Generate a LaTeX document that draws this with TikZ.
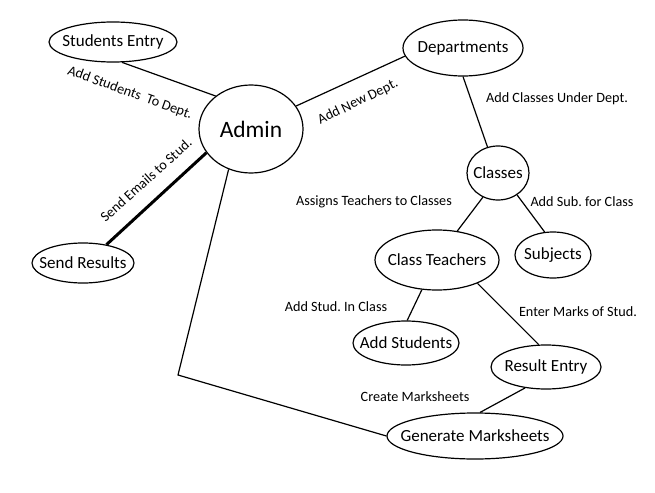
\documentclass[tikz,border=0pt]{standalone}
\usepackage{fontspec}
\setmainfont{Carlito}
\usetikzlibrary{shapes.geometric}
\begin{document}
\begin{tikzpicture}[x=1pt,y=-1pt,line width=1.2pt,
    task/.style={draw,ellipse,inner xsep=-14pt,inner ysep=-3pt,font=\fontsize{17}{17}\selectfont},
    lbl/.style={font=\fontsize{14.2}{14.2}\selectfont,inner sep=0pt}]
      \useasboundingbox (0,0) rectangle (655,492);
      \node[task,minimum width=128,minimum height=40] (studentsentry) at (113,42) {Students Entry};
      \node[task,minimum width=104,minimum height=88,font=\fontsize{23.5}{23.5}\selectfont] (admin) at (251,129) {Admin};
      \node[task,minimum width=102,minimum height=40] (sendresults) at (83,263) {Send Results};
      \node[task,minimum width=120,minimum height=56] (departments) at (463,48) {Departments};
      \node[task,minimum width=62,minimum height=54] (classes) at (498,173) {Classes};
      \node[task,minimum width=124,minimum height=60] (classteachers) at (437,260) {Class Teachers};
      \node[task,minimum width=76,minimum height=46] (subjects) at (553,255) {Subjects};
      \node[task,minimum width=106,minimum height=44] (addstudents) at (406,343) {Add Students};
      \node[task,minimum width=110,minimum height=44] (resultentry) at (546,367) {Result Entry};
      \node[task,minimum width=176,minimum height=46] (marksheets) at (475,436) {Generate Marksheets};
      \coordinate (bend) at (178,375);
      \draw (studentsentry.-66) -- (admin.137);
      \draw (admin.27) -- (departments.188);
      \draw[line width=3pt] (admin.208) -- (sendresults.38);
      \draw (admin.241) -- (bend) -- (marksheets.west);
      \draw (departments.-90) -- (classes.112);
      \draw (classes.238) -- (classteachers.55);
      \draw (classes.-49) -- (subjects.110);
      \draw (classteachers.243) -- (addstudents.87);
      \draw (classteachers.-30) -- (resultentry.108);
      \draw (resultentry.225) -- (marksheets.78);
      \node[lbl,rotate=-20] (lstud) at (130,93) {Add Students\ \ To Dept.};
      \node[lbl,rotate=26] (ldept) at (358,102) {Add New Dept.};
      \node[lbl,rotate=42] (lmail) at (146,180) {Send Emails to Stud.};
      \node[lbl] (lclasses) at (557,99) {Add Classes Under\ Dept.};
      \node[lbl] (lteach) at (374,202) {Assigns Teachers to Classes};
      \node[lbl] (lsub) at (582,202) {Add Sub.\ for\ Class};
      \node[lbl] (ladd) at (336,307) {Add Stud.\ In Class};
      \node[lbl] (lmarks) at (578,312) {Enter Marks of Stud.};
      \node[lbl] (lcreate) at (415,397) {Create Marksheets};
    \end{tikzpicture}
\end{document}
